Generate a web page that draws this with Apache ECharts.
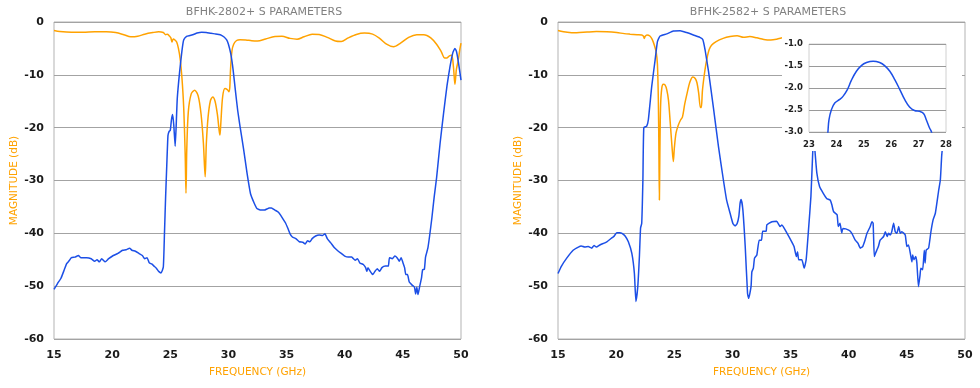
<!DOCTYPE html>
<html><head><meta charset="utf-8">
<script src="https://cdn.jsdelivr.net/npm/echarts@6/dist/echarts.min.js"></script>
<style>html,body{margin:0;padding:0;background:#fff}#c{width:980px;height:388px}</style>
</head><body><div id="c"></div>
<script>
// ---------- Titles / labels ----------
const titleLeft = 'BFHK-2802+ S PARAMETERS';
const titleRight = 'BFHK-2582+ S PARAMETERS';
const yName = 'MAGNITUDE (dB)';
const xName = 'FREQUENCY (GHz)';

// ---------- BFHK-2802+ ----------
const left_s21_f = [15,15.3,15.6,15.9,16.1,16.3,16.5,16.8,17.1,17.3,17.8,18.2,18.5,18.7,18.9,19.1,19.4,19.7,20.1,20.5,20.9,21.2,21.5,21.7,22.0,22.3,22.6,22.8,23.0,23.2,23.4,23.6,23.8,24.0,24.2,24.4,24.5,24.6,24.7,24.8,24.9,25.0,25.1,25.2,25.3,25.42,25.5,25.6,25.8,26.0,26.15,26.4,26.7,27.0,27.3,27.7,28.1,28.5,28.9,29.3,29.6,29.85,30.0,30.2,30.4,30.6,30.8,31.0,31.3,31.6,31.9,32.2,32.45,32.8,33.1,33.3,33.5,33.7,34.0,34.3,34.5,34.7,34.9,35.1,35.3,35.5,35.8,36.1,36.4,36.6,36.8,37.0,37.2,37.5,37.8,38.1,38.3,38.5,38.8,39.1,39.4,39.7,40.0,40.3,40.6,40.9,41.1,41.3,41.6,41.8,41.9,42.0,42.2,42.4,42.6,42.8,43.0,43.2,43.5,43.75,43.85,44.1,44.3,44.5,44.7,44.85,45.0,45.15,45.25,45.4,45.55,45.8,46.0,46.1,46.2,46.3,46.45,46.6,46.7,46.85,46.95,47.15,47.3,47.5,47.7,47.9,48.2,48.5,48.8,49.05,49.3,49.48,49.6,49.77,50];
const left_s21_db = [-50.6,-49.5,-48.5,-46.8,-45.7,-45.2,-44.6,-44.5,-44.2,-44.6,-44.6,-44.8,-45.3,-45.0,-45.4,-44.8,-45.4,-44.8,-44.2,-43.8,-43.2,-43.1,-42.8,-43.2,-43.4,-43.8,-44.2,-44.8,-44.6,-45.6,-45.8,-46.2,-46.6,-47.2,-47.5,-46.4,-40,-33,-27,-21.5,-20.7,-20.5,-18.5,-17.5,-19.5,-23.5,-20,-14.5,-9.5,-5.5,-3.4,-2.7,-2.55,-2.35,-2.1,-1.95,-2.0,-2.15,-2.25,-2.4,-2.8,-3.4,-4.2,-6.0,-9.0,-13,-16.8,-19.8,-24,-28.6,-32.5,-34.2,-35.3,-35.6,-35.6,-35.4,-35.2,-35.2,-35.6,-36,-36.6,-37.3,-38,-39,-40.1,-40.7,-41.0,-41.6,-41.7,-42.0,-41.4,-41.6,-41.0,-40.5,-40.3,-40.4,-40.1,-41.0,-41.8,-42.7,-43.3,-43.8,-44.3,-44.5,-44.5,-45.1,-44.8,-45.6,-45.9,-46.5,-47.2,-46.5,-47.2,-47.8,-47.2,-46.7,-47.2,-46.5,-46.2,-46.2,-44.6,-44.8,-44.3,-44.6,-45.3,-44.6,-45.5,-46.5,-47.8,-47.8,-49.2,-49.8,-50.2,-51.5,-50.2,-51.6,-50,-48.5,-46.9,-46.8,-44.5,-42.8,-40.5,-37,-33,-29.5,-23,-17.3,-12,-8.5,-5.8,-5.0,-5.5,-7.5,-11];

const left_s11_f = [15,15.5,16.5,17.5,18.5,19.5,20.3,21.0,21.6,22.2,22.8,23.5,24.0,24.4,24.6,24.75,24.9,25.05,25.15,25.25,25.4,25.55,25.7,25.85,26.0,26.15,26.28,26.35,26.42,26.55,26.8,27.1,27.4,27.65,27.85,28.0,28.1,28.25,28.45,28.65,28.85,29.05,29.2,29.27,29.35,29.5,29.7,29.9,30.05,30.12,30.18,30.3,30.45,30.7,31.0,31.5,32.0,32.5,33.2,34.0,34.6,35.3,35.9,36.5,37.2,37.8,38.5,39.2,39.7,40.3,41.0,41.7,42.4,43.0,43.6,44.2,44.8,45.5,46.2,46.8,47.4,47.9,48.3,48.6,48.8,49.0,49.2,49.35,49.48,49.6,49.75,49.9,50];
const left_s11_db = [-1.6,-1.8,-1.95,-1.95,-1.85,-1.85,-2.0,-2.4,-2.8,-2.7,-2.3,-2.0,-1.85,-2.0,-2.4,-2.3,-2.6,-3.0,-3.8,-3.2,-3.4,-3.8,-5.0,-7.0,-10.5,-16,-25,-32.4,-24,-17,-13.6,-12.9,-14.0,-17.5,-23,-29.3,-23,-18,-14.9,-14.2,-15,-17.5,-20.5,-21.4,-19,-14.2,-12.6,-12.8,-13.2,-12.3,-9,-5.5,-4.2,-3.5,-3.35,-3.4,-3.55,-3.6,-3.2,-2.75,-2.7,-3.1,-3.25,-2.8,-2.3,-2.35,-2.9,-3.6,-3.7,-3.0,-2.35,-2.1,-2.3,-3.1,-4.2,-4.7,-4.0,-2.9,-2.4,-2.4,-3.0,-4.2,-5.6,-6.8,-6.8,-6.4,-6.3,-8.5,-11.8,-9,-7.4,-5.2,-4.0];

// ---------- BFHK-2582+ ----------
const right_s21_f = [15,15.3,15.75,16.3,16.75,17.0,17.3,17.6,17.9,18.1,18.3,18.6,19.2,19.6,19.8,20.05,20.3,20.5,20.77,21.05,21.35,21.57,21.7,21.86,22.0,22.1,22.2,22.3,22.38,22.63,22.77,23.06,23.35,23.55,23.78,24.35,24.92,25.5,26.07,26.64,27.2,27.45,27.65,27.94,28.37,28.8,29.23,29.5,29.8,30.05,30.23,30.4,30.55,30.66,30.75,30.9,31.1,31.3,31.4,31.6,31.67,31.8,31.9,32.1,32.3,32.5,32.6,32.9,32.96,33.4,33.8,34.1,34.25,34.7,35.1,35.3,35.5,35.6,35.7,35.97,36.17,36.34,36.54,36.75,36.9,37.0,37.1,37.26,37.5,37.8,38.1,38.4,38.55,38.7,39.0,39.1,39.25,39.4,39.5,40.0,40.27,40.56,40.8,41.0,41.2,41.4,41.57,41.85,42.0,42.1,42.2,42.3,42.55,42.7,43.0,43.15,43.3,43.43,43.57,43.7,43.86,44.0,44.14,44.3,44.43,44.57,44.86,45.0,45.14,45.3,45.43,45.5,45.6,45.76,45.86,46.0,46.13,46.2,46.36,46.5,46.57,46.66,46.87,47.07,47.25,47.45,47.74,47.88,48.0,48.15];
const right_s21_db = [-47.6,-46.2,-44.7,-43.2,-42.6,-42.4,-42.6,-42.5,-42.8,-42.3,-42.6,-42.2,-41.6,-40.9,-40.6,-39.9,-39.9,-40.0,-40.5,-41.6,-43.8,-47.6,-52.9,-50.1,-44.4,-39,-38.1,-30,-20,-19.7,-18.5,-12.2,-7.2,-3.7,-2.65,-2.25,-1.7,-1.64,-2.0,-2.46,-2.9,-3.3,-5.3,-9.3,-16.3,-23.6,-30,-33.7,-36.2,-38.2,-38.6,-38.2,-36.8,-34.3,-33.6,-35.6,-42.5,-51.4,-52.3,-50.1,-47.3,-46.6,-44.7,-44.1,-41.3,-41.3,-39.6,-39.6,-38.4,-37.8,-37.7,-38.7,-38.4,-40,-41.6,-42.5,-44.4,-43.5,-45,-45,-46.6,-45,-39.4,-33,-25,-22,-24.5,-28.6,-31.2,-32.4,-33.4,-33.7,-34.6,-35.9,-36.5,-38.7,-38.1,-39.9,-39.1,-39.4,-40,-41.3,-41.9,-42.8,-42.5,-41.3,-40,-38.7,-37.8,-38.1,-44.4,-43.8,-42.5,-41.3,-40.6,-39.7,-40.6,-40,-40.3,-39.7,-38.1,-39.7,-40,-38.7,-40,-39.7,-40.3,-42.5,-42.2,-43.8,-45.4,-44.1,-45,-44.4,-45.6,-50.1,-48,-46.6,-46.9,-43.2,-45.6,-43.2,-42.8,-39.7,-37.5,-36.2,-31.8,-29.9,-25.2,-22];

const right_s11_f = [15,15.8,16.6,17.5,18.3,19.2,20.05,20.7,21.2,21.8,22.2,22.35,22.42,22.5,22.65,22.9,23.1,23.3,23.45,23.55,23.63,23.68,23.72,23.76,23.82,23.92,24.05,24.2,24.35,24.5,24.65,24.8,24.92,25.0,25.15,25.35,25.55,25.7,25.9,26.1,26.35,26.6,26.8,26.95,27.1,27.25,27.32,27.42,27.55,27.7,27.85,28.0,28.2,28.6,29.2,29.8,30.4,30.95,31.5,32.1,32.7,33.3,33.8,34.25,34.6];
const right_s11_db = [-1.6,-1.95,-2.05,-1.9,-1.8,-1.85,-2.0,-2.2,-2.3,-2.4,-2.45,-2.7,-3.1,-2.7,-2.45,-2.65,-3.3,-4.5,-5.8,-8,-14.8,-25,-33.7,-25,-16,-12.6,-11.8,-11.9,-12.8,-14.8,-19,-23.5,-26.4,-24,-21,-19.5,-18.5,-18.0,-15.5,-13.5,-11.3,-10.4,-10.7,-11.5,-13.5,-16.2,-16.2,-13,-10.5,-8.2,-6.5,-5.2,-4.4,-3.7,-3.1,-2.75,-2.6,-2.9,-2.75,-3.0,-3.3,-3.4,-3.25,-3.0,-2.8];

// Inset: passband detail of BFHK-2582+ S21
const inset_f = [23.6,23.69,23.73,23.82,23.94,24.12,24.24,24.39,24.55,24.73,24.91,25.1,25.34,25.58,25.76,25.95,26.13,26.31,26.49,26.67,26.85,27.04,27.18,27.28,27.4,27.47,27.55];
const inset_db = [-3.6,-3.0,-2.72,-2.49,-2.34,-2.26,-2.19,-2.05,-1.82,-1.62,-1.49,-1.42,-1.39,-1.42,-1.49,-1.62,-1.81,-2.03,-2.26,-2.43,-2.51,-2.53,-2.58,-2.72,-2.91,-3.0,-3.3];

// ---------- build ----------
const zip = (a, b) => a.map((v, i) => [v, b[i]]);
const BLUE = '#1c4fe6', ORANGE = '#ffa200';
const FONT = 'DejaVu Sans';
const gridLine = '#a3a3a3';

function mainX(i) {
  return {
    type: 'value', gridIndex: i, min: 15, max: 50, interval: 5,
    axisLine: { show: false }, axisTick: { show: false }, splitLine: { show: false },
    axisLabel: { color: '#1a1a1a', fontWeight: 'bold', fontSize: 11, fontFamily: FONT, margin: 11 },
    name: xName, nameLocation: 'middle', nameGap: 28,
    nameTextStyle: { color: ORANGE, fontSize: 10.5, fontFamily: FONT }
  };
}
function mainY(i) {
  return {
    type: 'value', gridIndex: i, min: -60, max: 0, interval: 10,
    axisLine: { show: false }, axisTick: { show: false },
    splitLine: { show: true, lineStyle: { color: gridLine, width: 1 } },
    axisLabel: { color: '#1a1a1a', fontWeight: 'bold', fontSize: 11, fontFamily: FONT, margin: 10 },
    name: yName, nameLocation: 'middle', nameGap: 29,
    nameTextStyle: { color: ORANGE, fontSize: 10.5, fontFamily: FONT }
  };
}
function line(data, color, xi, yi, z, smooth) {
  return { type: 'line', data, xAxisIndex: xi, yAxisIndex: yi, showSymbol: false, symbol: 'none',
    smooth: smooth, lineStyle: { color, width: 1.5 }, itemStyle: { color }, z, animation: false };
}

const chart = echarts.init(document.getElementById('c'), null, { renderer: 'canvas' });
chart.setOption({
  animation: false,
  backgroundColor: '#fff',
  grid: [
    { left: 54, top: 22, width: 407, height: 317, show: true, borderColor: '#b3b3b3', borderWidth: 1, backgroundColor: 'transparent' },
    { left: 558, top: 22, width: 407, height: 317, show: true, borderColor: '#b3b3b3', borderWidth: 1, backgroundColor: 'transparent' },
    { left: 809, top: 44, width: 137, height: 88, show: true, borderColor: '#d0d0d0', borderWidth: 1, backgroundColor: 'transparent', z: 60 }
  ],
  xAxis: [
    mainX(0), mainX(1),
    { type: 'value', gridIndex: 2, min: 23, max: 28, interval: 1, z: 60,
      axisLine: { show: false }, axisTick: { show: false }, splitLine: { show: false },
      axisLabel: { color: '#222', fontWeight: 'bold', fontSize: 8.5, fontFamily: FONT, margin: 8 } }
  ],
  yAxis: [
    mainY(0), mainY(1),
    { type: 'value', gridIndex: 2, min: -3, max: -1, interval: 0.5, z: 60,
      axisLine: { show: false }, axisTick: { show: false },
      splitLine: { show: true, lineStyle: { color: '#9a9a9a', width: 1 } },
      axisLabel: { color: '#222', fontWeight: 'bold', fontSize: 8.5, fontFamily: FONT, margin: 6,
        formatter: v => v.toFixed(1) } }
  ],
  graphic: [
    { type: 'text', x: 264, y: 12, z: 100, style: { text: titleLeft, fill: '#808080', font: '11px "DejaVu Sans"', textAlign: 'center', textVerticalAlign: 'middle' } },
    { type: 'text', x: 768, y: 12, z: 100, style: { text: titleRight, fill: '#808080', font: '11px "DejaVu Sans"', textAlign: 'center', textVerticalAlign: 'middle' } },
    { type: 'rect', z: 50, shape: { x: 782, y: 28, width: 180, height: 123 }, style: { fill: '#ffffff' } }
  ],
  series: [
    line(zip(left_s11_f, left_s11_db), ORANGE, 0, 0, 3, 0.3),
    line(zip(left_s21_f, left_s21_db), BLUE, 0, 0, 4, 0.15),
    line(zip(right_s11_f, right_s11_db), ORANGE, 1, 1, 3, 0.3),
    line(zip(right_s21_f, right_s21_db), BLUE, 1, 1, 4, 0.15),
    line(zip(inset_f, inset_db), BLUE, 2, 2, 70, 0.4)
  ]
});
</script></body></html>
